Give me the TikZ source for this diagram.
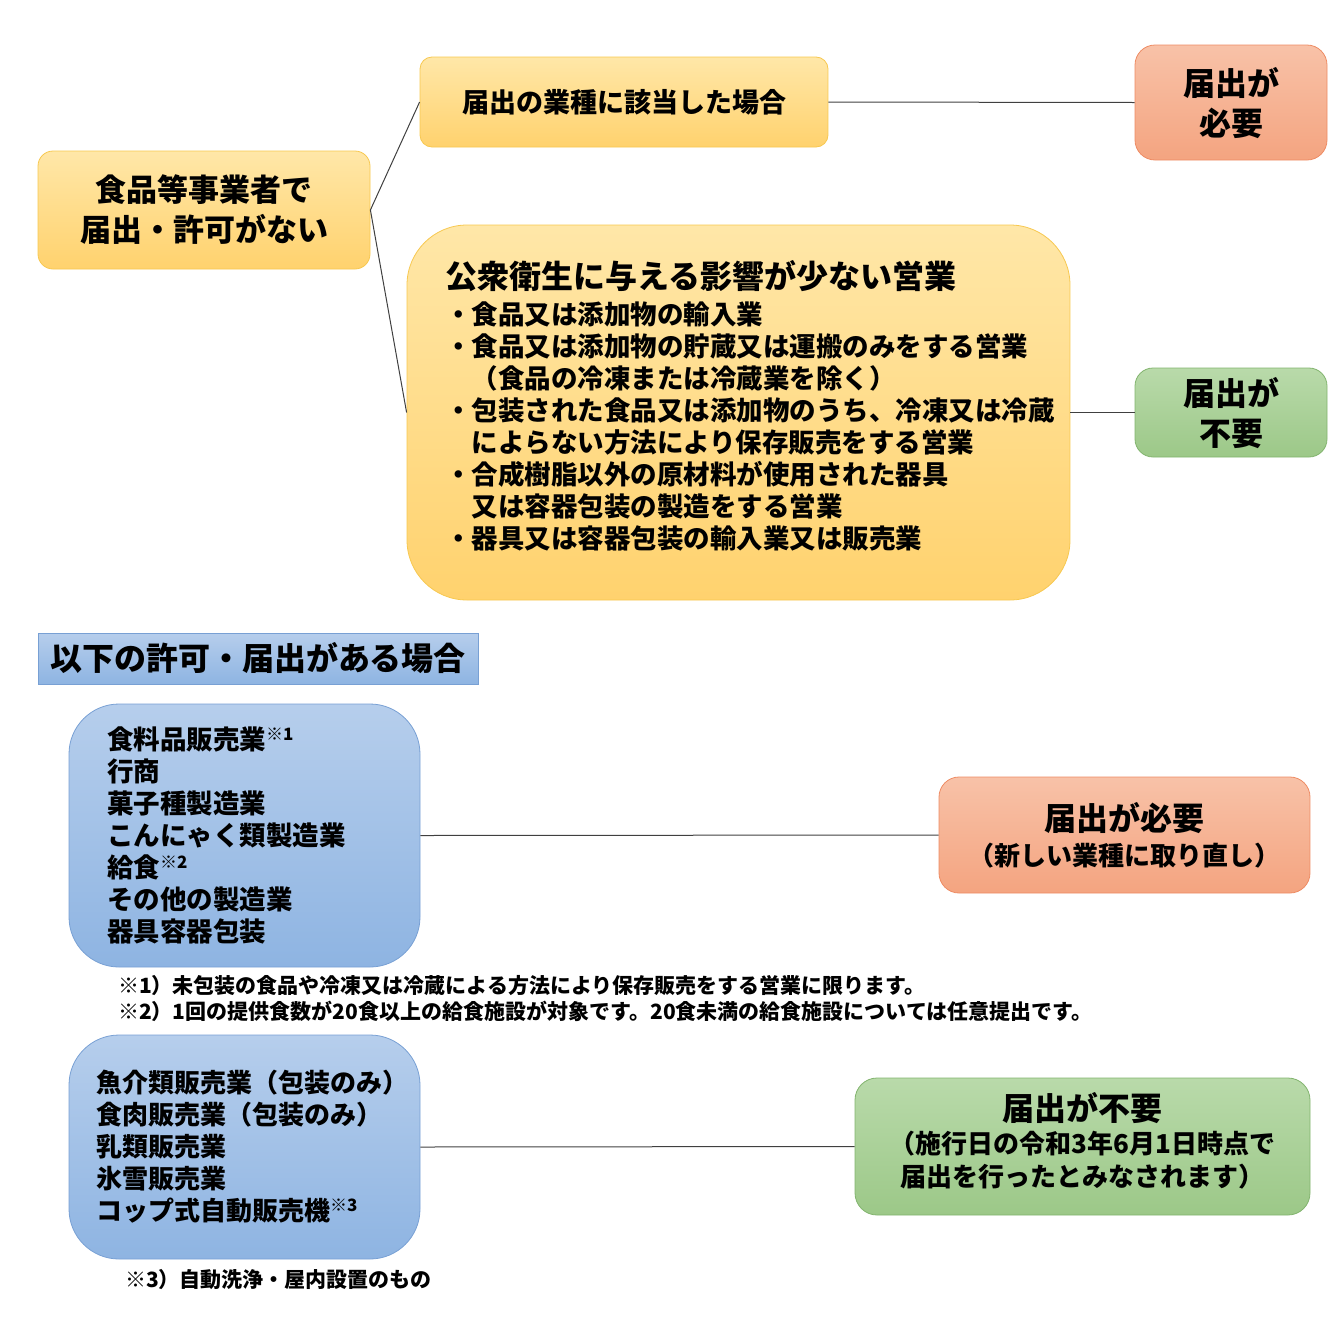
\documentclass[tikz,border=0pt]{standalone}
\usepackage{fontspec}
\setmainfont{Noto Sans CJK JP}
\usetikzlibrary{positioning}
\definecolor{ytop}{RGB}{255,231,168}
\definecolor{ybot}{RGB}{255,210,110}
\definecolor{yline}{RGB}{247,200,80}
\definecolor{otop}{RGB}{248,194,168}
\definecolor{obot}{RGB}{244,164,128}
\definecolor{oline}{RGB}{238,140,100}
\definecolor{gtop}{RGB}{185,218,170}
\definecolor{gbot}{RGB}{156,200,136}
\definecolor{gline}{RGB}{130,180,110}
\definecolor{btop}{RGB}{182,206,236}
\definecolor{bbot}{RGB}{142,180,226}
\definecolor{bline}{RGB}{120,160,212}
\definecolor{ink}{RGB}{64,64,64}
\newcommand{\chu}[1]{\raisebox{0.35em}{\fontsize{17}{17}\selectfont ※#1}}
\newcommand{\deep}[1]{\rule[-#1]{0pt}{1pt}}
\tikzset{
  box/.style={rounded corners=15pt,line width=0.8pt,align=center,inner sep=0pt,font=\bfseries},
  ybox/.style={box,draw=yline,top color=ytop,bottom color=ybot},
  obox/.style={box,draw=oline,top color=otop,bottom color=obot,rounded corners=20pt},
  gbox/.style={box,draw=gline,top color=gtop,bottom color=gbot,rounded corners=20pt},
  bbox/.style={box,draw=bline,top color=btop,bottom color=bbot,rounded corners=50pt,align=left},
  note/.style={anchor=north west,inner sep=0pt,align=left,font=\bfseries\fontsize{21}{26}\selectfont},
  link/.style={draw=ink,line width=1pt},
}
\begin{document}
\begin{tikzpicture}[x=1pt,y=-1pt]
  \useasboundingbox (0,0) rectangle (1344,1323);

  % no permit yet
  \node[ybox,minimum width=332pt,minimum height=118pt,font=\bfseries\fontsize{31}{40}\selectfont]
    (start) at (204,210) {食品等事業者で\\届出・許可がない};
  \node[ybox,rounded corners=12pt,minimum width=408pt,minimum height=90pt,font=\bfseries\fontsize{27}{32}\selectfont]
    (match) at (624,102) {届出の業種に該当した場合};
  \node[ybox,rounded corners=60pt,minimum width=663pt,minimum height=375pt,align=left,
    text width=587pt,inner xsep=38pt,font=\bfseries\fontsize{26.5}{32}\selectfont]
    (minor) at (738.5,412.5) {{\fontsize{32}{32}\selectfont 公衆衛生に与える影響が少ない営業}\\[4pt]
・食品又は添加物の輸入業\\
・食品又は添加物の貯蔵又は運搬のみをする営業\\
\hspace*{1em}（食品の冷凍または冷蔵業を除く）\\
・包装された食品又は添加物のうち、冷凍又は冷蔵\\
\hspace*{1em}によらない方法により保存販売をする営業\\
・合成樹脂以外の原材料が使用された器具\\
\hspace*{1em}又は容器包装の製造をする営業\\
・器具又は容器包装の輸入業又は販売業\deep{16pt}};
  \node[obox,minimum width=192pt,minimum height=115pt,font=\bfseries\fontsize{32}{40}\selectfont]
    (need1) at (1231,102.5) {\rule{0pt}{30pt}届出が\\必要};
  \node[gbox,rounded corners=18pt,minimum width=192pt,minimum height=89pt,font=\bfseries\fontsize{32}{40}\selectfont]
    (free1) at (1231,412.5) {\rule{0pt}{30pt}届出が\\不要};
  \draw[link] (start.east) -- (match.west);
  \draw[link] (start.east) -- (minor.west);
  \draw[link] (match.east) -- (need1.west);
  \draw[link] (minor.east) -- (free1.west);

  % existing permits
  \node[box,rounded corners=0pt,draw=bline,top color=btop,bottom color=bbot,minimum width=440pt,minimum height=51pt,
    font=\bfseries\fontsize{32}{32}\selectfont] (head) at (258,658.5) {以下の許可・届出がある場合};
  \node[bbox,minimum width=351pt,minimum height=263pt,text width=275pt,inner xsep=38pt,
    font=\bfseries\fontsize{26.5}{32}\selectfont] (permA) at (244.5,835.5) {食料品販売業\chu{1}\\
行商\\
菓子種製造業\\
こんにゃく類製造業\\
給食\chu{2}\\
その他の製造業\\
器具容器包装};
  \node[obox,minimum width=371pt,minimum height=116pt,font=\bfseries\fontsize{26}{35}\selectfont]
    (need2) at (1124.5,835) {{\fontsize{32}{32}\selectfont 届出が必要}\\（新しい業種に取り直し）};
  \draw[link] (permA.east) -- (need2.west);
  \node[note] (n12) at (118,975) {※1）未包装の食品や冷凍又は冷蔵による方法により保存販売をする営業に限ります。\\
※2）1回の提供食数が20食以上の給食施設が対象です。20食未満の給食施設については任意提出です。};

  \node[bbox,minimum width=351pt,minimum height=224pt,text width=297pt,inner xsep=27pt,
    font=\bfseries\fontsize{26}{32}\selectfont] (permB) at (244.5,1147) {魚介類販売業（包装のみ）\\
食肉販売業（包装のみ）\\
乳類販売業\\
氷雪販売業\\
コップ式自動販売機\chu{3}};
  \node[gbox,rounded corners=22pt,minimum width=455pt,minimum height=137pt,font=\bfseries\fontsize{26}{33}\selectfont]
    (free2) at (1082.5,1146.5) {{\fontsize{32}{32}\selectfont 届出が不要}\\（施行日の令和3年6月1日時点で\\届出を行ったとみなされます）\deep{14pt}};
  \draw[link] (permB.east) -- (free2.west);
  \node[note] (n3) at (125,1269) {※3）自動洗浄・屋内設置のもの};
\end{tikzpicture}
\end{document}
